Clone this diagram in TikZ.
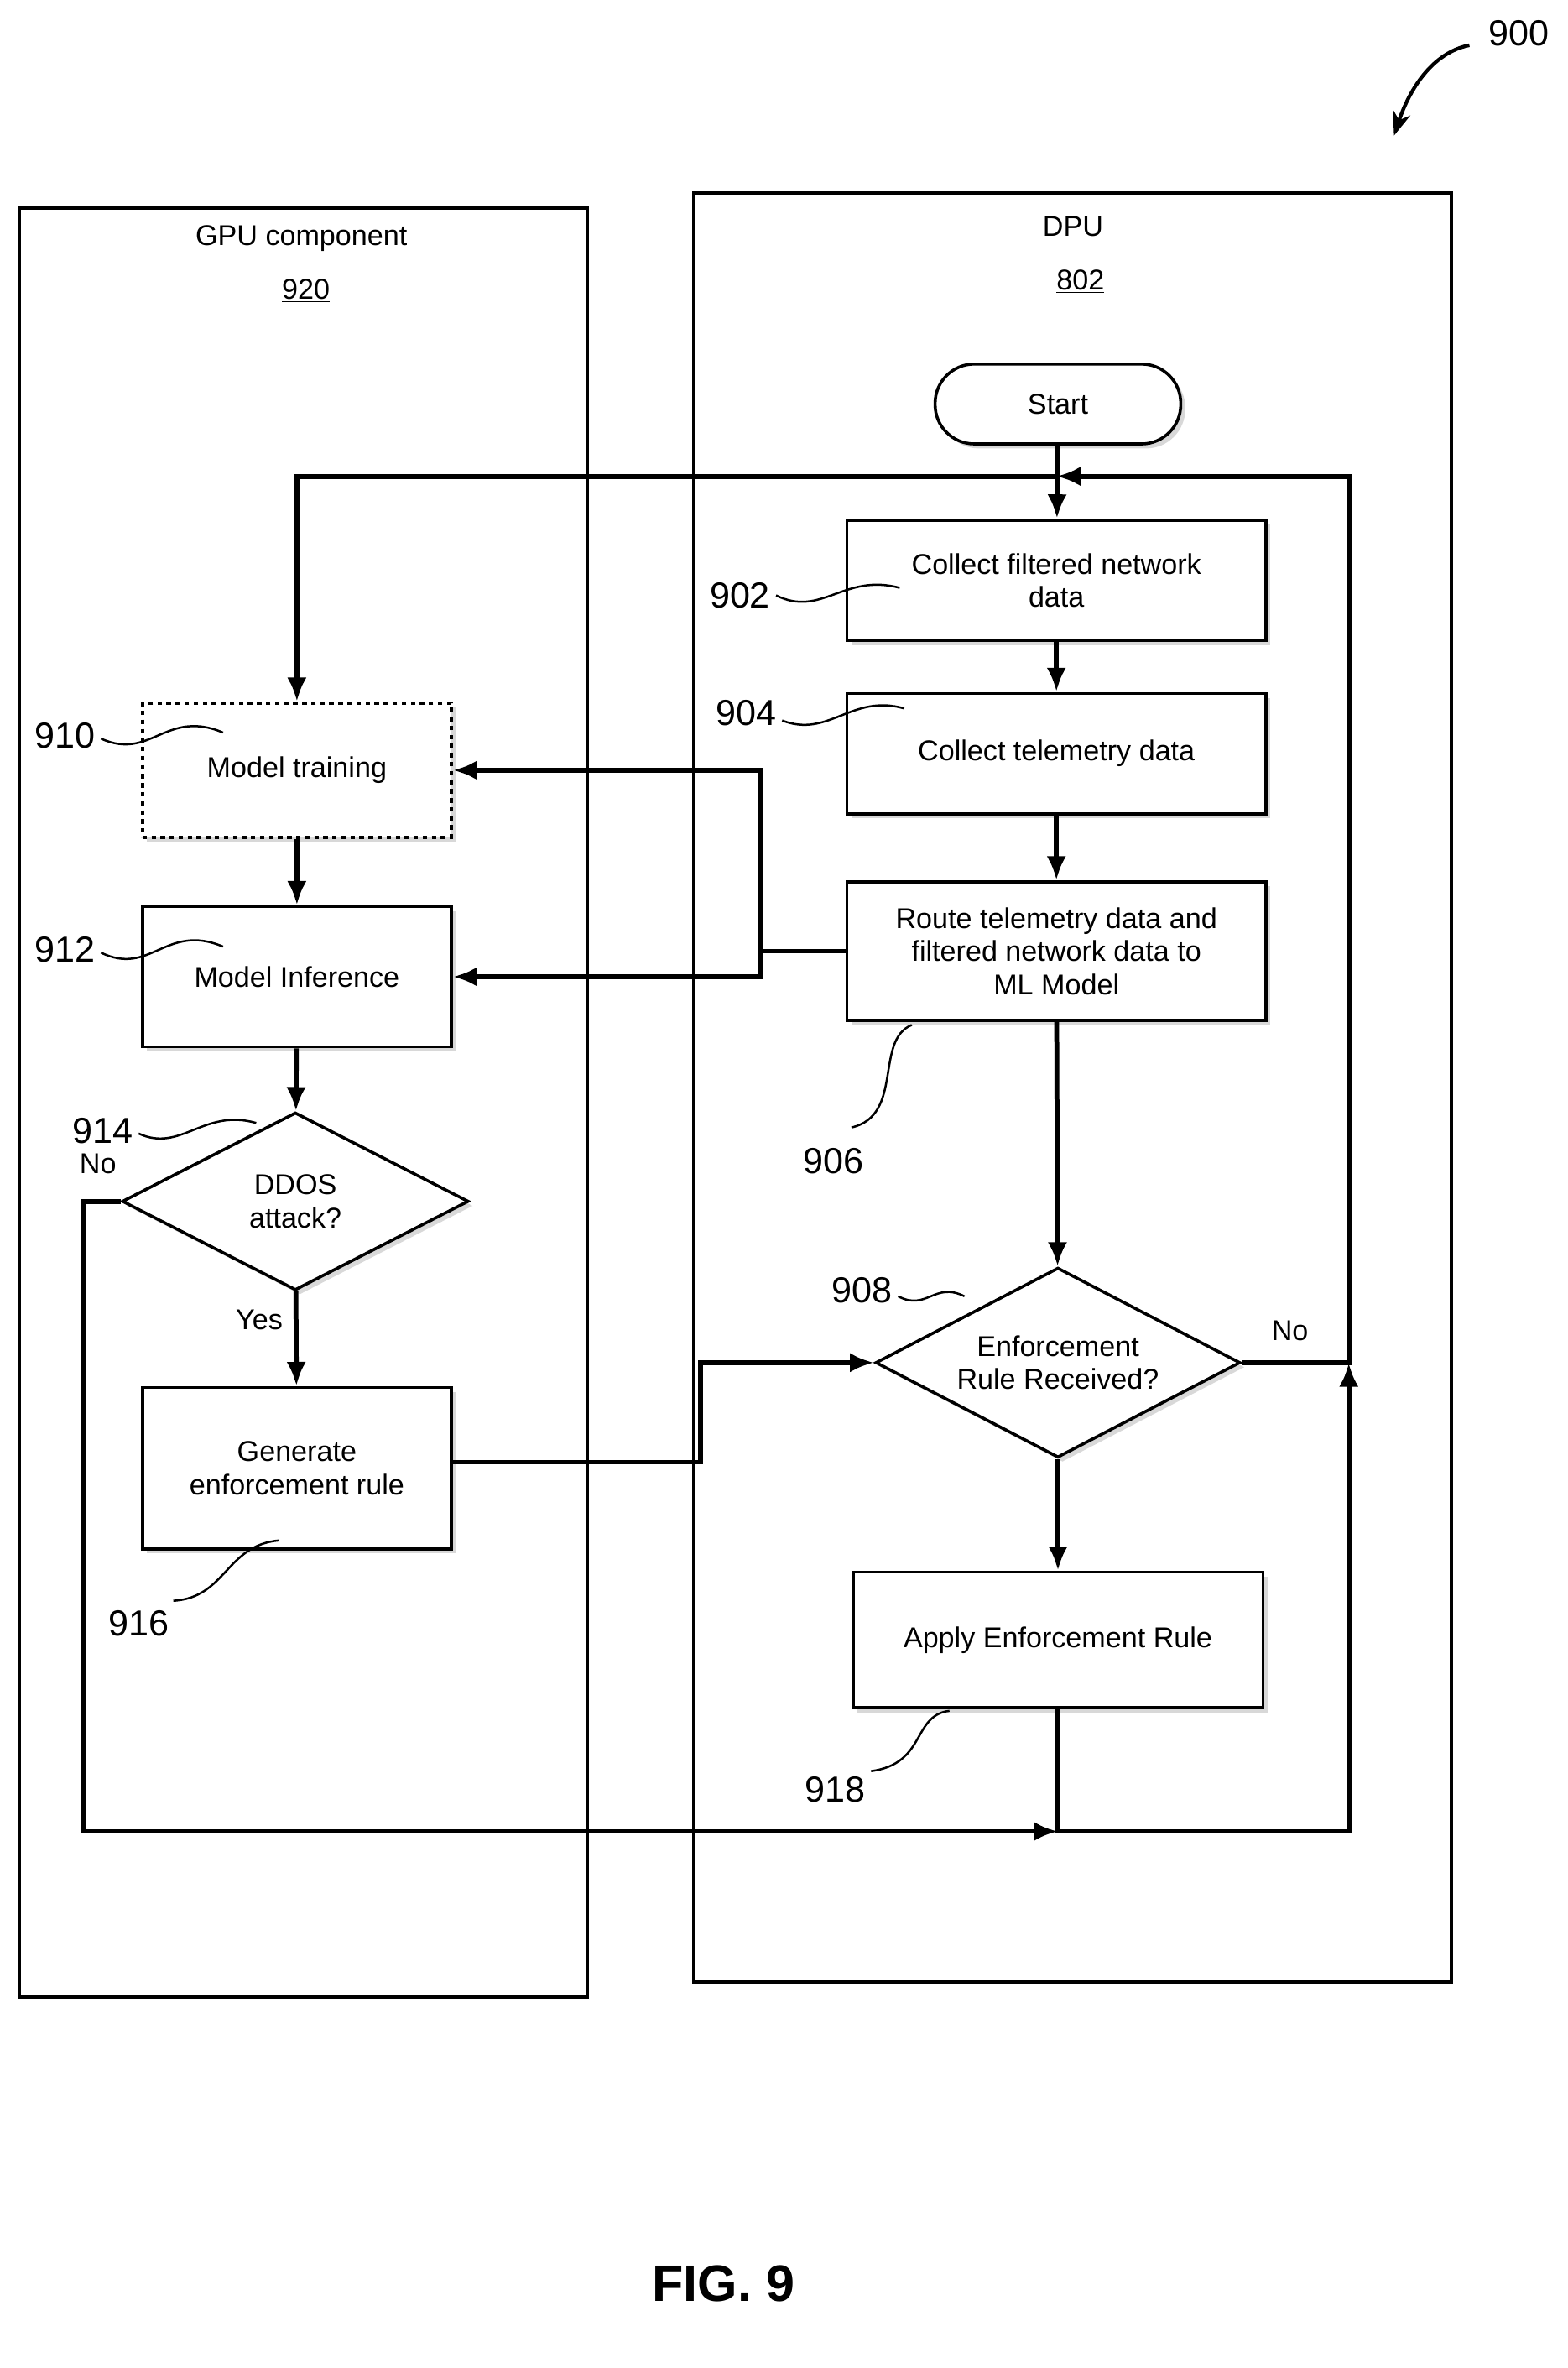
\documentclass[tikz,border=0pt]{standalone}
\usepackage{fontspec}
\setmainfont{Liberation Sans}
\usetikzlibrary{shapes.geometric,shadows,arrows.meta}
\begin{document}
\begin{tikzpicture}[x=1pt,y=-1pt,font=\fontsize{19}{22}\selectfont,
  every node/.style={align=center},
  stepbox/.style={draw,line width=2pt,fill=white,drop shadow={shadow xshift=3pt,shadow yshift=-3pt,fill=gray!60}},
  decide/.style={diamond,draw,line width=2pt,fill=white,aspect=1.9,inner sep=0pt,drop shadow={shadow xshift=3pt,shadow yshift=-3pt,fill=gray!60}},
  flow/.style={line width=3.2pt,-{Latex[length=16pt,width=13pt]}},
  link/.style={line width=3.2pt},
  lane/.style={draw,line width=2pt},
  refnum/.style={font=\fontsize{24}{26}\selectfont},
  lead/.style={line width=1.4pt}]
\useasboundingbox (0,0) rectangle (1040,1571);

%lanes
\draw[lane] (13,138) rectangle (390,1325);
\draw[lane] (460,128) rectangle (963,1315);
\node at (200,158) {GPU component};
\node at (203,193) {\underline{920}};
\node at (712,150) {DPU};
\node at (717,187) {\underline{802}};

%figure number
\node[refnum] (n900) at (1008,22) {900};
\draw[lead,line width=2.4pt,-{Stealth[length=16pt]}] (975,30) .. controls (950,35) and (935,60) .. (925,90);

%DPU steps
\node[stepbox,rounded corners=26pt,minimum width=163pt,minimum height=53pt] (start) at (702,268) {Start};
\node[stepbox,minimum width=278pt,minimum height=80pt] (collect) at (701,385) {Collect filtered network\\data};
\node[stepbox,minimum width=278pt,minimum height=80pt] (tele) at (701,500) {Collect telemetry data};
\node[stepbox,minimum width=278pt,minimum height=92pt] (route) at (701,631) {Route telemetry data and\\filtered network data to\\ML Model};
\node[decide,minimum width=242pt,minimum height=126pt] (received) at (702,904) {Enforcement\\Rule Received?};
\node[stepbox,minimum width=272pt,minimum height=90pt] (apply) at (702,1088) {Apply Enforcement Rule};

%GPU steps
\node[stepbox,dashed,minimum width=205pt,minimum height=89pt] (train) at (197,511) {Model training};
\node[stepbox,minimum width=205pt,minimum height=93pt] (infer) at (197,648) {Model Inference};
\node[decide,minimum width=230pt,minimum height=118pt] (ddos) at (196,797) {DDOS\\attack?};
\node[stepbox,minimum width=205pt,minimum height=107pt] (rule) at (197,974) {Generate\\enforcement rule};

\coordinate (join) at (701,316);
\coordinate (split) at (505,631);
\coordinate (merge) at (702,1215);

%connectors
\draw[flow] (start) -- (collect);
\draw[flow] (collect) -- (tele);
\draw[flow] (tele) -- (route);
\draw[flow] (route) -- (received);
\draw[flow] (received) -- (apply);
\draw[flow] (received.east) -- (895,904) -- (895,316) -- (join);
\draw[flow] (join) -- (197,316) -- (train.north);
\draw[link] (route.west) -- (split);
\draw[flow] (split) |- (train.east);
\draw[flow] (split) |- (infer.east);
\draw[flow] (train) -- (infer);
\draw[flow] (infer) -- (ddos);
\draw[flow] (ddos) -- node[pos=0.3,left=4pt] {Yes} (rule);
\draw[flow] (rule.east |- 0,970) -- (465,970) -- (465,904) -- (received.west);
\draw[flow] (ddos.west) -- (55,797) -- (55,1215) -- (merge);
\draw[flow] (apply) -- (merge) -- (895,1215) -- (895,904);
\node at (65,772) {No};
\node at (856,883) {No};

%reference numbers
\node[refnum] at (491,395) {902};
\draw[lead] (515,395) .. controls (545,410) and (560,380) .. (597,390);
\node[refnum] at (495,473) {904};
\draw[lead] (519,478) .. controls (550,490) and (565,460) .. (600,470);
\node[refnum] at (553,770) {906};
\draw[lead] (565,748) .. controls (600,740) and (580,690) .. (605,680);
\node[refnum] at (572,856) {908};
\draw[lead] (596,860) .. controls (615,870) and (620,850) .. (640,860);
\node[refnum] at (43,488) {910};
\draw[lead] (67,490) .. controls (100,505) and (110,470) .. (148,486);
\node[refnum] at (43,630) {912};
\draw[lead] (67,632) .. controls (100,648) and (110,612) .. (148,628);
\node[refnum] at (68,750) {914};
\draw[lead] (92,752) .. controls (120,765) and (135,735) .. (170,745);
\node[refnum] at (92,1077) {916};
\draw[lead] (115,1062) .. controls (150,1060) and (150,1025) .. (185,1022);
\node[refnum] at (554,1187) {918};
\draw[lead] (578,1175) .. controls (615,1170) and (605,1138) .. (630,1135);

\node[font=\bfseries\fontsize{34}{36}\selectfont] at (480,1515) {FIG. 9};
\end{tikzpicture}
\end{document}
